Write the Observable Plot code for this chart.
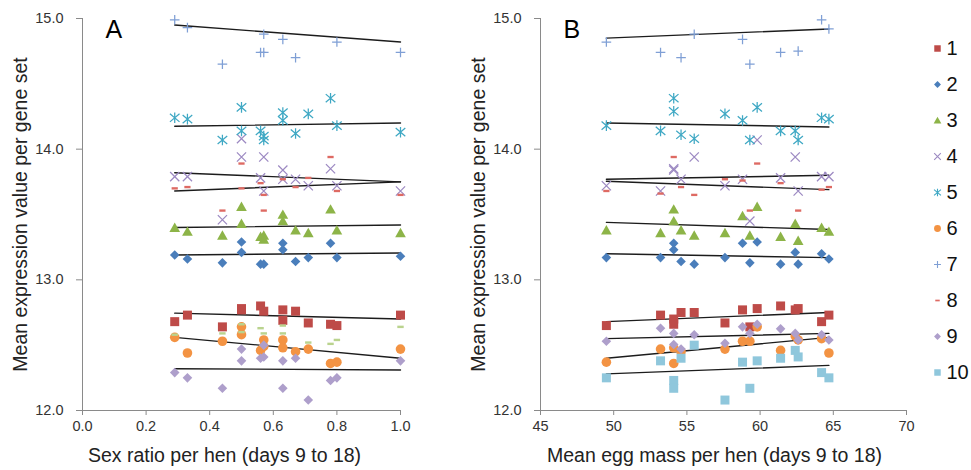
<!DOCTYPE html>
<html><head><meta charset="utf-8">
<script src="https://cdn.jsdelivr.net/npm/d3@7"></script>
<script src="https://cdn.jsdelivr.net/npm/@observablehq/plot@0.6"></script>
<style>
body{margin:0;background:#fff;font-family:"Liberation Sans",Arial,sans-serif;}
#wrap{position:relative;width:971px;height:470px;overflow:hidden;}
#wrap > div{position:absolute;top:0;}
</style></head><body>
<div id="wrap"><div id="pa" style="left:0"></div><div id="pb" style="left:470px"></div><div id="leg" style="left:900px"></div></div>
<script>
// ---------- data ----------
const seriesNames = ["1","2","3","4","5","6","7","8","9","10"];
const yTicks = [12, 13, 14, 15];
const xTicksA = [0, 0.2, 0.4, 0.6, 0.8, 1.0];
const xTicksB = [45, 50, 55, 60, 65, 70];
const titleA = "Sex ratio per hen (days 9 to 18)";
const titleB = "Mean egg mass per hen (days 9 to 18)";
const yTitle = "Mean expression value per gene set";

// hens: x values in each panel
const sexRatio = [0.29, 0.33, 0.44, 0.50, 0.50, 0.56, 0.57, 0.57, 0.63, 0.63, 0.67, 0.71, 0.78, 0.80, 1.00];
const eggMass  = [49.5, 53.2, 54.1, 54.1, 54.6, 55.5, 57.6, 58.8, 59.3, 59.8, 61.4, 62.4, 62.6, 64.2, 64.7];

// panel A values per gene set (null = not visible)
const a1  = [12.68, 12.73, 12.64, 12.78, 12.77, 12.80, 12.76, null, 12.77, 12.69, 12.76, 12.67, 12.66, 12.65, 12.73];
const a2  = [13.19, 13.16, 13.13, 13.29, 13.21, 13.12, 13.12, null, 13.28, 13.23, 13.14, 13.17, 13.28, 13.17, 13.18];
const a3  = [13.40, 13.37, 13.34, 13.56, 13.43, 13.33, 13.34, 13.31, 13.50, 13.45, 13.38, 13.36, 13.54, 13.38, 13.36];
const a4  = [13.79, 13.79, 13.46, 14.08, 13.94, 13.78, 13.94, 13.68, 13.84, 13.77, 13.77, 13.72, 13.85, 13.72, 13.68];
const a5  = [14.24, 14.23, 14.07, 14.32, 14.14, 14.14, 14.07, 14.10, 14.28, 14.22, 14.12, 14.27, 14.39, 14.18, 14.13];
const a6  = [12.56, 12.44, 12.53, 12.64, 12.58, 12.46, 12.54, 12.49, 12.54, 12.48, 12.45, 12.47, 12.36, 12.37, 12.47];
const a7  = [14.99, 14.93, 14.65, null, null, 14.74, 14.74, 14.88, 14.84, null, 14.70, null, null, 14.82, 14.74];
const a8  = [13.70, 13.71, 13.53, 13.89, 13.70, 13.74, 13.65, 13.53, 13.77, null, 13.71, 13.78, 13.94, 13.68, 13.65];
const a9  = [12.29, 12.25, 12.17, 12.47, 12.38, 12.40, 12.41, 12.50, 12.38, 12.17, 12.40, 12.08, 12.23, 12.25, 12.38];
const a10 = [12.58, null, 12.59, 12.66, 12.60, 12.63, 12.59, null, 12.65, 12.59, null, 12.52, 12.51, 12.54, 12.64];

// panel B values per gene set
const b1  = [12.65, 12.73, 12.70, 12.66, 12.75, 12.75, 12.67, 12.77, 12.64, 12.78, 12.80, 12.77, 12.78, 12.68, 12.73];
const b2  = [13.17, 13.17, 13.28, 13.23, 13.14, 13.12, 13.17, 13.28, 13.13, 13.29, 13.12, 13.21, 13.12, 13.20, 13.16];
const b3  = [13.38, 13.36, 13.54, 13.45, 13.38, 13.34, 13.36, 13.49, 13.34, 13.56, 13.33, 13.43, 13.30, 13.40, 13.37];
const b4  = [13.72, 13.68, 13.85, 13.84, 13.77, 13.94, 13.72, 13.77, 13.45, 14.07, 13.78, 13.94, 13.68, 13.79, 13.79];
const b5  = [14.18, 14.14, 14.39, 14.29, 14.11, 14.08, 14.27, 14.22, 14.07, 14.32, 14.14, 14.14, 14.07, 14.24, 14.23];
const b6  = [12.37, 12.47, 12.48, 12.36, 12.45, null, 12.47, 12.53, 12.53, 12.64, 12.46, 12.57, 12.54, 12.55, 12.44];
const b7  = [14.82, 14.74, null, null, 14.70, 14.88, null, 14.84, 14.65, null, 14.74, null, 14.75, 14.99, 14.92];
const b8  = [13.68, 13.66, 13.94, null, 13.71, 13.65, 13.77, 13.76, 13.53, 13.89, 13.74, null, 13.53, 13.69, 13.71];
const b9  = [12.53, 12.63, 12.59, 12.505, 12.47, 12.58, 12.515, 12.64, 12.59, 12.66, 12.625, 12.59, 12.54, 12.58, 12.54];
const b10 = [12.25, 12.38, 12.23, 12.17, 12.40, 12.50, 12.08, 12.37, 12.17, 12.38, 12.40, 12.46, 12.41, 12.29, 12.25];

// linear trend lines: value at the smallest and at the largest x (null = no line)
const trendStartA = [12.745, 13.19, 13.40, 13.82, 14.175, 12.56, 14.95, 13.68, 12.32, null];
const trendEndA   = [12.70, 13.205, 13.42, 13.75, 14.20, 12.40, 14.82, 13.75, 12.31, null];
const trendStartB = [12.68, 13.20, 13.44, 13.77, 14.20, 12.40, 14.85, 13.755, 12.55, 12.28];
const trendEndB   = [12.75, 13.17, 13.385, 13.80, 14.17, 12.56, 14.92, 13.69, 12.59, 12.345];

const panelA = [a1, a2, a3, a4, a5, a6, a7, a8, a9, a10];
const panelB = [b1, b2, b3, b4, b5, b6, b7, b8, b9, b10];

// ---------- symbols & styles ----------
const rad = s => Math.sqrt(s / Math.PI);
const SYM = {
  square:   {draw(c, s){const r = rad(s); c.rect(-r, -r, 2*r, 2*r);}},
  diamond:  {draw(c, s){const r = rad(s); c.moveTo(0,-r); c.lineTo(r,0); c.lineTo(0,r); c.lineTo(-r,0); c.closePath();}},
  triangle: {draw(c, s){const r = rad(s); c.moveTo(0,-r); c.lineTo(r*1.05, r*0.85); c.lineTo(-r*1.05, r*0.85); c.closePath();}},
  times:    {draw(c, s){const r = rad(s); c.moveTo(-r,-r); c.lineTo(r,r); c.moveTo(-r,r); c.lineTo(r,-r);}},
  asterisk: {draw(c, s){const r = rad(s); c.moveTo(-r,-r*0.85); c.lineTo(r,r*0.85); c.moveTo(-r,r*0.85); c.lineTo(r,-r*0.85); c.moveTo(0,-r*1.1); c.lineTo(0,r*1.1);}},
  circle:   {draw(c, s){const r = rad(s); c.moveTo(r,0); c.arc(0,0,r,0,2*Math.PI);}},
  plus:     {draw(c, s){const r = rad(s); c.moveTo(-r,0); c.lineTo(r,0); c.moveTo(0,-r); c.lineTo(0,r);}},
  dash:     {draw(c, s){const r = rad(s); c.rect(-r, -r*0.38, 2*r, r*0.76);}}
};
const styles = [
  {sym:"square",   color:"#BE4B48", r:4.5, fill:true},
  {sym:"diamond",  color:"#4A7EBB", r:4.8, fill:true},
  {sym:"triangle", color:"#8DB448", r:5.1, fill:true},
  {sym:"times",    color:"#9C89C2", r:4.6, fill:false},
  {sym:"asterisk", color:"#3FA8C4", r:4.8, fill:false},
  {sym:"circle",   color:"#F39343", r:4.8, fill:true},
  {sym:"plus",     color:"#7F9FD5", r:4.8, fill:false},
  {sym:"dash",     color:"#DE6A63", r:3.1, fill:true},
  {sym:"diamond",  color:"#AE9FCB", r:4.8, fill:true},
  {sym:"square",   color:"#8FC7DC", r:4.5, fill:true}
];
const stylesA = styles.map((s, i) => i === 9 ? {sym:"dash", color:"#BAD38E", r:3.2, fill:true} : s);

const FONT = "Liberation Sans, Arial, sans-serif";
const AXIS = "#8a8a8a";

function dotMark(st, legend) {
  const o = {x: "x", y: "y", symbol: SYM[st.sym], r: legend ? st.r * 0.72 : st.r};
  if (st.fill) { o.fill = st.color; o.stroke = "none"; }
  else { o.fill = "none"; o.stroke = st.color; o.strokeWidth = legend ? 1.1 : 1.25; }
  return o;
}

function panel(xs, values, tS, tE, st, xDomain, xTicks, xFormat, title, letter, width, mL, mR, titleDx) {
  const ext = d3.extent(xs);
  const trend = [];
  tS.forEach((v, i) => { if (v != null) trend.push({s: i, x: ext[0], y: v}, {s: i, x: ext[1], y: tE[i]}); });
  const marks = [
    Plot.axisY({ticks: yTicks, tickFormat: d3.format(".1f"), tickSize: 6, tickPadding: 13, stroke: AXIS, color: "#333", label: null}),
    Plot.axisX({ticks: xTicks, tickFormat: xFormat, tickSize: 5, tickPadding: 5, stroke: AXIS, color: "#333", label: null}),
    Plot.ruleY([yTicks[0]], {stroke: AXIS}),
    Plot.ruleX([xDomain[0]], {stroke: AXIS}),
    Plot.line(trend, {x: "x", y: "y", z: "s", stroke: "#1c1c1c", strokeWidth: 1.4})
  ];
  values.forEach((vals, i) => {
    const data = xs.map((x, j) => ({x, y: vals[j]})).filter(d => d.y != null);
    marks.push(Plot.dot(data, dotMark(st[i], false)));
  });
  marks.push(
    Plot.text([letter], {text: d => d, frameAnchor: "top-left", dx: 23, dy: 2, textAnchor: "start", lineAnchor: "top", fontSize: 25, fill: "#000"}),
    Plot.text([title], {text: d => d, frameAnchor: "bottom", dx: titleDx, dy: 38, textAnchor: "middle", lineAnchor: "top", fontSize: 19.5, fill: "#222"}),
    Plot.text([yTitle], {text: d => d, frameAnchor: "left", dx: -69, rotate: -90, textAnchor: "middle", lineAnchor: "top", fontSize: 19.5, fill: "#222"})
  );
  return Plot.plot({
    width, height: 470,
    marginLeft: mL, marginRight: mR, marginTop: 18, marginBottom: 60,
    x: {domain: xDomain, nice: false},
    y: {domain: [12, 15], nice: false},
    style: {fontFamily: FONT, fontSize: "14.5px", background: "transparent", overflow: "visible"},
    marks
  });
}

document.getElementById("pa").appendChild(
  panel(sexRatio, panelA, trendStartA, trendEndA, stylesA, [0, 1], xTicksA, d3.format(".1f"), titleA, "A", 470, 82, 70, -17)
);
document.getElementById("pb").appendChild(
  panel(eggMass, panelB, trendStartB, trendEndB, styles, [45, 70], xTicksB, d3.format("d"), titleB, "B", 455, 70, 19, -9)
);

// legend
const legMarks = [];
seriesNames.forEach((name, i) => {
  const o = dotMark(styles[i], true);
  legMarks.push(Plot.dot([name], {...o, x: undefined, y: d => d, frameAnchor: "left", dx: 37}));
});
legMarks.push(Plot.text(seriesNames, {y: d => d, text: d => d, frameAnchor: "left", dx: 46, textAnchor: "start", lineAnchor: "middle", fontSize: 20, fill: "#111"}));
document.getElementById("leg").appendChild(Plot.plot({
  width: 71, height: 470, margin: 0,
  y: {type: "point", domain: seriesNames, range: [29.5, 390], axis: null},
  style: {fontFamily: FONT, background: "transparent", overflow: "visible"},
  marks: legMarks
}));
</script>
</body></html>
